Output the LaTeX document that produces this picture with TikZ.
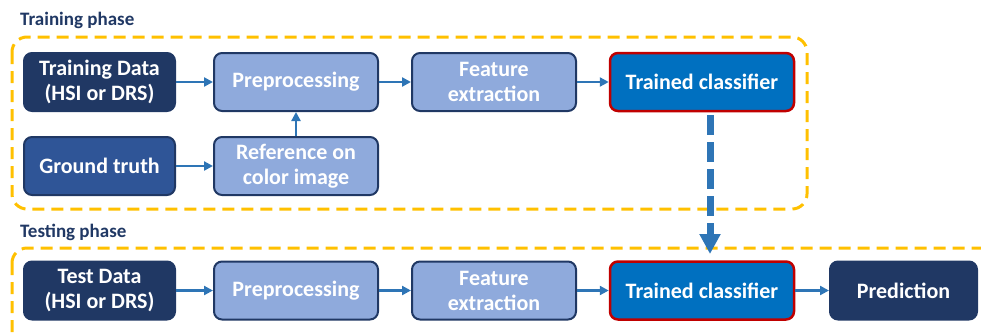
\documentclass[tikz,border=0pt]{standalone}
\usepackage{fontspec}
\setmainfont{Carlito}
\usetikzlibrary{arrows.meta}

\definecolor{navy}{HTML}{203864}
\definecolor{midblue}{HTML}{2F5597}
\definecolor{lightblue}{HTML}{8FAADC}
\definecolor{clfblue}{HTML}{0070C0}
\definecolor{clfred}{HTML}{C00000}
\definecolor{arrowblue}{HTML}{2E75B6}
\definecolor{phaseyellow}{HTML}{FFC000}

\begin{document}
\begin{tikzpicture}[x=1pt,y=-1pt,
    box/.style={rounded corners=8pt, minimum height=58pt, inner sep=0pt, align=center,
      text=white, line width=2pt, font=\fontsize{22}{25}\selectfont\bfseries},
    databox/.style={box, fill=navy, draw=navy, minimum width=151pt},
    procbox/.style={box, fill=lightblue, draw=navy, minimum width=164pt},
    clfbox/.style={box, fill=clfblue, draw=clfred, line width=2.5pt, minimum width=184pt},
    flow/.style={arrowblue, line width=2.5pt, -{Triangle[length=9pt,width=9pt]}},
    phase/.style={phaseyellow, line width=3pt, dash pattern=on 12pt off 7pt, rounded corners=15pt},
    title/.style={anchor=west, inner sep=0pt, text=navy, font=\fontsize{19}{22}\selectfont\bfseries}
  ]

    \clip (0,0) rectangle (981,333);

    % phase frames
    \draw[phase] (12,37) rectangle (807,209);
    \draw[phase] (12,248) rectangle (1020,370);
    \node[title] (traintitle) at (20,20) {Training phase};
    \node[title] (testtitle) at (20,232) {Testing phase};

    % training phase
    \node[databox] (traindata) at (99.5,82) {Training Data\\(HSI or DRS)};
    \node[procbox] (trainprep) at (296,82) {Preprocessing};
    \node[procbox] (trainfeat) at (494,82) {Feature\\extraction};
    \node[clfbox]  (trainclf)  at (702,82) {Trained classifier};
    \node[databox, fill=midblue] (truth) at (99.5,166) {Ground truth};
    \node[procbox] (reference) at (296,166) {Reference on\\color image};

    \draw[flow] (traindata) -- (trainprep);
    \draw[flow] (trainprep) -- (trainfeat);
    \draw[flow] (trainfeat) -- (trainclf);
    \draw[flow] (truth) -- (reference);
    \draw[flow] (reference) -- (trainprep);

    % testing phase
    \node[databox] (testdata) at (99.5,290.5) {Test Data\\(HSI or DRS)};
    \node[procbox] (testprep) at (296,290.5) {Preprocessing};
    \node[procbox] (testfeat) at (494,290.5) {Feature\\extraction};
    \node[clfbox]  (testclf)  at (702,290.5) {Trained classifier};
    \node[databox, minimum width=147pt] (prediction) at (903.5,290.5) {Prediction};

    \draw[flow] (testdata) -- (testprep);
    \draw[flow] (testprep) -- (testfeat);
    \draw[flow] (testfeat) -- (testclf);
    \draw[flow] (testclf) -- (prediction);

    % model handed over
    \coordinate (dropstart) at (710,115);
    \coordinate (dropend) at (710,254);
    \draw[arrowblue, line width=7pt, dash pattern=on 20pt off 7pt,
      -{Triangle[length=20pt,width=20pt]}] (dropstart) -- (dropend);

\end{tikzpicture}
\end{document}
